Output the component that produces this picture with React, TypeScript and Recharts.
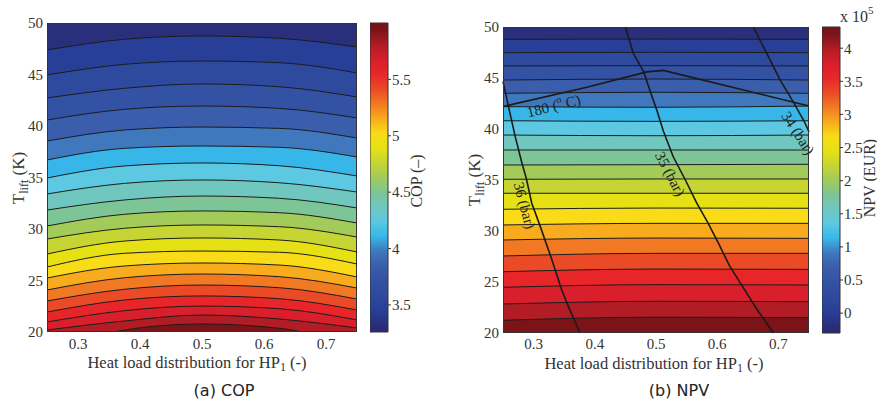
import React from "react";
import {
  ComposedChart,
  Area,
  Scatter,
  XAxis,
  YAxis,
  CartesianGrid,
  ReferenceArea,
} from "recharts";

const SERIF = "'Liberation Serif', 'DejaVu Serif', serif";
const SANS = "'DejaVu Sans', sans-serif";
const INK = "#333";

// band fills, top of plot (low value) to bottom (high value)
const BAND_COLORS = [
  "#2a2f7c", "#283f98", "#2e4a9e", "#3352a3", "#3a5eab", "#3f78bd",
  "#37b7e9", "#5cc8e1", "#6fc7c0", "#7dc596", "#a2cb5a", "#c6d533",
  "#e6e114", "#f9db17", "#f8ab1c", "#f17923", "#ea4b26", "#e8262a",
  "#d81f2b", "#b21c25", "#7b1419",
];

const X_TICKS = [0.3, 0.4, 0.5, 0.6, 0.7];
const Y_TICKS = [20, 25, 30, 35, 40, 45, 50];

// (a) COP: contour lines, T_lift at each x
const COP_X = [0.25, 0.375, 0.5, 0.625, 0.75];
const COP_CONTOURS = [
  [47.38, 48.42, 48.74, 48.51, 47.67],
  [44.95, 45.99, 46.31, 46.14, 45.15],
  [42.72, 43.66, 44.08, 43.81, 42.82],
  [40.58, 41.62, 41.94, 41.71, 40.78],
  [38.54, 39.61, 39.9, 39.77, 38.83],
  [36.7, 37.83, 38.06, 37.93, 36.99],
  [34.95, 36.12, 36.41, 36.14, 35.15],
  [33.4, 34.43, 34.76, 34.49, 33.59],
  [31.84, 32.82, 33.2, 32.98, 32.04],
  [30.29, 31.43, 31.75, 31.58, 30.58],
  [29.03, 30.07, 30.39, 30.22, 29.22],
  [27.57, 28.83, 29.13, 28.93, 27.77],
  [26.31, 27.64, 27.86, 27.74, 26.6],
  [25.24, 26.41, 26.7, 26.5, 25.34],
  [24.08, 25.27, 25.63, 25.37, 24.27],
  [23.01, 24.15, 24.56, 24.3, 23.2],
  [21.94, 23.11, 23.5, 23.23, 22.14],
  [20.97, 22.07, 22.52, 22.26, 21.17],
  [20.19, 21.07, 21.65, 21.26, 20.39],
  [18.4, 20.19, 20.78, 20.36, 18.6],
];
const COP_BAR_RANGE = [3.26, 6.0];
const COP_BAR_TICKS = [3.5, 4, 4.5, 5, 5.5];

// (b) NPV: contour lines, T_lift at each x
const NPV_X = [0.25, 0.5, 0.75];
const NPV_CONTOURS = [
  [48.79, 48.82, 48.79],
  [47.48, 47.52, 47.48],
  [46.18, 46.21, 46.18],
  [44.8, 44.9, 44.8],
  [43.5, 43.6, 43.5],
  [42.19, 42.13, 42.25],
  [40.81, 40.75, 40.81],
  [39.41, 39.34, 39.41],
  [37.94, 37.94, 37.94],
  [36.47, 36.5, 36.54],
  [35.07, 35.1, 35.1],
  [33.7, 33.7, 33.7],
  [32.13, 32.25, 32.23],
  [30.59, 30.75, 30.75],
  [29.12, 29.31, 29.28],
  [27.55, 27.81, 27.81],
  [26.01, 26.27, 26.24],
  [24.48, 24.74, 24.71],
  [22.84, 23.11, 23.07],
  [21.25, 21.55, 21.5],
];
const NPV_BAR_RANGE = [-0.3, 4.32];
const NPV_BAR_TICKS = [0, 0.5, 1, 1.5, 2, 2.5, 3, 3.5, 4];

// iso-lines drawn over the NPV map
const PRESSURE_36 = [
  { x: 0.25, y: 44.64 }, { x: 0.259, y: 42.19 }, { x: 0.27, y: 39.25 },
  { x: 0.281, y: 36.64 }, { x: 0.288, y: 35.17 }, { x: 0.297, y: 32.72 },
  { x: 0.311, y: 30.43 }, { x: 0.33, y: 27.16 }, { x: 0.346, y: 24.22 },
  { x: 0.357, y: 22.58 }, { x: 0.376, y: 20 },
];
const PRESSURE_35 = [
  { x: 0.45, y: 50 }, { x: 0.463, y: 47.4 }, { x: 0.48, y: 45.6 },
  { x: 0.49, y: 43.8 }, { x: 0.501, y: 41.9 }, { x: 0.512, y: 39.8 },
  { x: 0.528, y: 37.3 }, { x: 0.548, y: 35.0 }, { x: 0.566, y: 32.8 },
  { x: 0.584, y: 30.9 }, { x: 0.602, y: 28.8 }, { x: 0.62, y: 26.6 },
  { x: 0.64, y: 24.7 }, { x: 0.664, y: 22.4 }, { x: 0.692, y: 20 },
];
const PRESSURE_34 = [
  { x: 0.659, y: 50 }, { x: 0.681, y: 47.42 }, { x: 0.703, y: 44.8 },
  { x: 0.724, y: 42.68 }, { x: 0.741, y: 40.88 }, { x: 0.75, y: 39.74 },
];
const TEMP_180 = [
  { x: 0.25, y: 42.2 }, { x: 0.387, y: 44.1 }, { x: 0.485, y: 45.6 },
  { x: 0.512, y: 45.75 }, { x: 0.75, y: 42.25 },
];
const ISO_LABELS = [
  { x: 0.333, y: 42.25, angle: -14, text: "180 (", sup: "o", rest: " C)" },
  { x: 0.285, y: 32.5, angle: 75, text: "36 (bar)" },
  { x: 0.523, y: 35.6, angle: 62, text: "35 (bar)" },
  { x: 0.732, y: 39.6, angle: 57, text: "34 (bar)" },
];

const toRows = (xs: number[], lines: number[][]) =>
  xs.map((x, i) => {
    const row: Record<string, number> = { x };
    lines.forEach((line, k) => {
      row[`c${k}`] = line[i];
    });
    return row;
  });

const COP_ROWS = toRows(COP_X, COP_CONTOURS);
const NPV_ROWS = toRows(NPV_X, NPV_CONTOURS);

const tickStyle = { fill: INK, fontSize: 15, style: { fontFamily: SERIF } };

function IsoLabel(props: any) {
  const { cx, cy, payload } = props;
  return (
    <text
      x={cx}
      y={cy}
      transform={`rotate(${payload.angle} ${cx} ${cy})`}
      textAnchor="middle"
      dominantBaseline="central"
      style={{ fontFamily: SERIF }}
      fontSize={15}
      fill="#222"
    >
      {payload.text}
      {payload.sup && (
        <tspan fontSize={10} dy={-6}>
          {payload.sup}
        </tspan>
      )}
      {payload.rest && <tspan dy={6}>{payload.rest}</tspan>}
    </text>
  );
}

function ContourPanel({
  rows,
  count,
  width,
  margin,
  clip,
  tickMargin,
  children,
}: any) {
  return (
    <ComposedChart width={width} height={401} data={rows} margin={margin}>
      <CartesianGrid horizontal={false} vertical={false} fill={BAND_COLORS[0]} fillOpacity={1} />
      <XAxis
        dataKey="x"
        type="number"
        domain={[0.25, 0.75]}
        ticks={X_TICKS}
        allowDataOverflow={clip}
        tickFormatter={(v: number) => v.toFixed(1)}
        tick={tickStyle}
        tickLine={false}
        axisLine={false}
        tickSize={0}
        tickMargin={tickMargin}
        height={30}
      />
      <YAxis
        type="number"
        domain={[20, 50]}
        ticks={Y_TICKS}
        allowDataOverflow={clip}
        tick={tickStyle}
        tickLine={false}
        axisLine={false}
        tickSize={0}
        tickMargin={4}
        width={40}
      />
      {Array.from({ length: count }, (_, k) => (
        <Area
          key={k}
          dataKey={`c${k}`}
          type="monotone"
          fill={BAND_COLORS[k + 1]}
          fillOpacity={1}
          stroke="#1c1c1c"
          strokeWidth={1}
          dot={false}
          activeDot={false}
          isAnimationActive={false}
        />
      ))}
      {children}
    </ComposedChart>
  );
}

function ColorBar({ top, height, domain, ticks, gradId }: any) {
  return (
    <ComposedChart
      width={58}
      height={401}
      data={[{ x: 0 }, { x: 1 }]}
      margin={{ top, bottom: 401 - top - height, left: 0, right: 0 }}
    >
      <XAxis dataKey="x" type="number" domain={[0, 1]} hide />
      <YAxis
        orientation="right"
        type="number"
        domain={domain}
        ticks={ticks}
        allowDataOverflow
        tick={tickStyle}
        tickLine={{ stroke: INK }}
        axisLine={false}
        tickSize={3}
        tickMargin={1}
        width={40}
      />
      <ReferenceArea
        y1={domain[0]}
        y2={domain[1]}
        fill={`url(#${gradId})`}
        fillOpacity={1}
        stroke={INK}
        strokeWidth={1}
      />
    </ComposedChart>
  );
}

const LINE_STYLE = { stroke: "#1a1a1a", strokeWidth: 1.6 };
const noDot = () => <g />;

export default function App() {
  const stops = [...BAND_COLORS].reverse();
  const gradient = (id: string) => (
    <linearGradient id={id} x1="0" y1="0" x2="0" y2="1">
      <stop offset="0" stopColor="#761216" />
      {stops.map((c, i) => (
        <stop key={i} offset={(i + 0.5) / stops.length} stopColor={c} />
      ))}
      <stop offset="1" stopColor="#272b72" />
    </linearGradient>
  );

  return (
    <div
      style={{
        position: "absolute",
        left: 0,
        top: 0,
        width: 877,
        height: 401,
        background: "#fff",
        overflow: "hidden",
        fontFamily: SERIF,
      }}
    >
      <svg width={0} height={0} style={{ position: "absolute" }}>
        <defs>
          {gradient("copGrad")}
          {gradient("npvGrad")}
        </defs>
      </svg>

      <div style={{ position: "absolute", left: 0, top: 0 }}>
        <ContourPanel
          rows={COP_ROWS}
          count={COP_CONTOURS.length}
          width={370}
          margin={{ top: 23, right: 13, bottom: 39, left: 7 }}
          clip
          tickMargin={6}
        />
      </div>
      <div style={{ position: "absolute", left: 370, top: 0 }}>
        <ColorBar top={23} height={309} domain={COP_BAR_RANGE} ticks={COP_BAR_TICKS} gradId="copGrad" />
      </div>

      <div style={{ position: "absolute", left: 440, top: 0 }}>
        <ContourPanel
          rows={NPV_ROWS}
          count={NPV_CONTOURS.length}
          width={380}
          margin={{ top: 27, right: 11, bottom: 38, left: 23 }}
          clip={false}
          tickMargin={5}
        >
          <Scatter data={TEMP_180} dataKey="y" line={LINE_STYLE} lineType="joint" shape={noDot} isAnimationActive={false} />
          <Scatter data={PRESSURE_36} dataKey="y" line={LINE_STYLE} lineType="joint" shape={noDot} isAnimationActive={false} />
          <Scatter data={PRESSURE_35} dataKey="y" line={LINE_STYLE} lineType="joint" shape={noDot} isAnimationActive={false} />
          <Scatter data={PRESSURE_34} dataKey="y" line={LINE_STYLE} lineType="joint" shape={noDot} isAnimationActive={false} />
          <Scatter data={ISO_LABELS} dataKey="y" shape={IsoLabel} isAnimationActive={false} />
        </ContourPanel>
      </div>
      <div style={{ position: "absolute", left: 822, top: 0 }}>
        <ColorBar top={27} height={306} domain={NPV_BAR_RANGE} ticks={NPV_BAR_TICKS} gradId="npvGrad" />
      </div>

      {/* plot frames */}
      <div style={{ position: "absolute", left: 47, top: 23, width: 310, height: 309, border: `1px solid ${INK}`, boxSizing: "border-box", pointerEvents: "none" }} />
      <div style={{ position: "absolute", left: 503, top: 27, width: 306, height: 306, border: `1px solid ${INK}`, boxSizing: "border-box", pointerEvents: "none" }} />

      <svg width={877} height={401} style={{ position: "absolute", left: 0, top: 0, pointerEvents: "none" }}>
        <g style={{ fontFamily: SERIF }} fill={INK} fontSize={17}>
          <text transform="translate(24,178) rotate(-90)" textAnchor="middle">
            T<tspan fontSize={12} dy={4}>lift</tspan>
            <tspan dy={-4}> (K)</tspan>
          </text>
          <text transform="translate(480,180) rotate(-90)" textAnchor="middle">
            T<tspan fontSize={12} dy={4}>lift</tspan>
            <tspan dy={-4}> (K)</tspan>
          </text>
          <text x={197} y={368} textAnchor="middle" fontSize={16.5}>
            Heat load distribution for HP<tspan fontSize={12} dy={3}>1</tspan>
            <tspan dy={-3}> (-)</tspan>
          </text>
          <text x={654} y={369} textAnchor="middle" fontSize={16.5}>
            Heat load distribution for HP<tspan fontSize={12} dy={3}>1</tspan>
            <tspan dy={-3}> (-)</tspan>
          </text>
          <text transform="translate(422,181) rotate(-90)" textAnchor="middle" fontSize={16}>
            COP (–)
          </text>
          <text transform="translate(875,178) rotate(-90)" textAnchor="middle" fontSize={16}>
            NPV (EUR)
          </text>
          <text x={840} y={22} fontSize={16}>
            x 10<tspan fontSize={11} dy={-8}>5</tspan>
          </text>
        </g>
        <g style={{ fontFamily: SANS }} fill="#222" fontSize={16}>
          <text x={224} y={396} textAnchor="middle">(a) COP</text>
          <text x={679} y={396} textAnchor="middle">(b) NPV</text>
        </g>
      </svg>
    </div>
  );
}
